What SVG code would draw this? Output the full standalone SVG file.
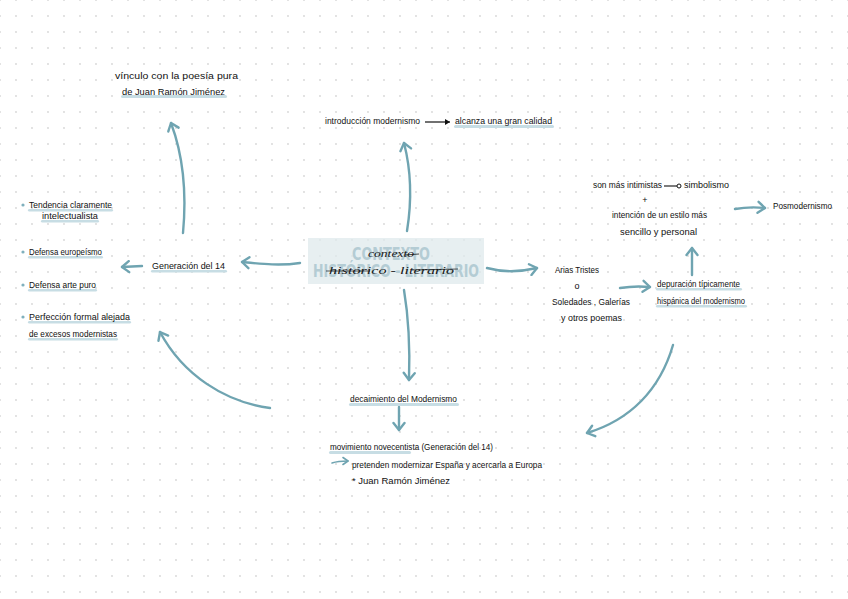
<svg xmlns="http://www.w3.org/2000/svg" width="848" height="599" viewBox="0 0 848 599">
  <defs>
    <pattern id="dots" patternUnits="userSpaceOnUse" x="8" y="8" width="16" height="16">
      <circle cx="8" cy="8" r="0.9" fill="#d6d6d6"/>
    </pattern>
    <marker id="ah" viewBox="-9 -7 11 14" refX="0" refY="0" markerWidth="11" markerHeight="14" markerUnits="userSpaceOnUse" orient="auto">
      <path d="M-7,-5.5 L0,0 L-7,5.5" fill="none" stroke="#6fa4b1" stroke-width="2.4" stroke-linecap="round" stroke-linejoin="round"/>
    </marker>
    <marker id="ahs" viewBox="-7 -5 8 10" refX="0" refY="0" markerWidth="8" markerHeight="10" markerUnits="userSpaceOnUse" orient="auto">
      <path d="M-5,-3.5 L0,0 L-5,3.5" fill="none" stroke="#6fa4b1" stroke-width="1.6" stroke-linecap="round" stroke-linejoin="round"/>
    </marker>
    <marker id="ahk" viewBox="-6 -4 7 8" refX="0" refY="0" markerWidth="7" markerHeight="8" markerUnits="userSpaceOnUse" orient="auto">
      <path d="M-5,-3 L0,0 L-5,3 Z" fill="#111"/>
    </marker>
  </defs>
  <style>
    .t { font-family: "Liberation Sans", "Noto Sans", sans-serif; font-size: 9px; fill: #111111; }
    .hl { fill: #c7dde4; }
    .c { fill: none; stroke: #6fa4b1; stroke-width: 2.4; stroke-linecap: round; }
    .big { font-family: "DejaVu Sans", "Liberation Sans", sans-serif; font-weight: bold; font-size: 18px; fill: #b4ccd4; }
    .hw { font-family: "Liberation Serif", serif; font-style: italic; font-size: 10px; fill: #161616; }
    .bul { fill: #7fb0bd; }
  </style>

  <rect width="848" height="599" fill="#ffffff"/>
  <rect width="848" height="599" fill="url(#dots)"/>

  <g id="connectors">
    <path class="c" d="M407,231 C412,200 411,170 404,143" marker-end="url(#ah)"/>
    <path class="c" d="M300,263 C280,266 262,264 242,262" marker-end="url(#ah)"/>
    <path class="c" d="M142,266 L122,267" marker-end="url(#ah)"/>
    <path class="c" d="M183,233 C187,190 183,155 171,123" marker-end="url(#ah)"/>
    <path class="c" d="M270,408 C225,402 183,375 160,332" marker-end="url(#ah)"/>
    <path class="c" d="M487,268 C505,273 520,272 537,268" marker-end="url(#ah)"/>
    <path class="c" d="M404,290 C409,320 410,350 409,380" marker-end="url(#ah)"/>
    <path class="c" d="M399,407 L399,430" marker-end="url(#ah)"/>
    <path class="c" d="M620,288 C632,286 640,286 650,287" marker-end="url(#ah)"/>
    <path class="c" d="M692,275 L692,248" marker-end="url(#ah)"/>
    <path class="c" d="M735,209 C746,207 755,207 765,208" marker-end="url(#ah)"/>
    <path class="c" d="M673,345 C660,390 630,420 587,433" marker-end="url(#ah)"/>
    <path fill="none" stroke="#6fa4b1" stroke-width="1.6" stroke-linecap="round" d="M332,463 C338,461 343,461 348,461" marker-end="url(#ahs)"/>
    <path fill="none" stroke="#111" stroke-width="1.2" d="M425,122 L450,122" marker-end="url(#ahk)"/>
  </g>

  <g id="node-center">
    <rect x="308" y="238" width="176" height="46" fill="#dfe9ec" opacity="0.75"/>
    <text class="big" x="391" y="260" text-anchor="middle" textLength="78" lengthAdjust="spacingAndGlyphs">CONTEXTO</text>
    <text class="big" x="396" y="277" text-anchor="middle" textLength="166" lengthAdjust="spacingAndGlyphs">HISTÓRICO - LITERARIO</text>
    <text class="hw" x="368" y="257" textLength="46" lengthAdjust="spacingAndGlyphs">contexto</text>
    <path d="M405,255 L419,254" stroke="#161616" stroke-width="0.8" fill="none"/>
    <text class="hw" x="329" y="274" textLength="125" lengthAdjust="spacingAndGlyphs">histórico - literario</text>
    <path d="M326,271 L370,271 M412,270 L458,269" stroke="#161616" stroke-width="0.7" fill="none"/>
  </g>

  <g id="node-vinculo">
    <rect class="hl" x="121" y="95" width="106" height="3" rx="1.5"/>
    <text class="t" x="115" y="79" textLength="123" lengthAdjust="spacingAndGlyphs">vínculo con la poesía pura</text>
    <text class="t" x="122" y="95" textLength="103" lengthAdjust="spacingAndGlyphs">de Juan Ramón Jiménez</text>
  </g>

  <g id="node-introduccion">
    <text class="t" x="325" y="124" textLength="95" lengthAdjust="spacingAndGlyphs">introducción modernismo</text>
  </g>

  <g id="node-alcanza">
    <rect class="hl" x="454" y="125" width="100" height="3" rx="1.5"/>
    <text class="t" x="455" y="124" textLength="97" lengthAdjust="spacingAndGlyphs">alcanza una gran calidad</text>
  </g>

  <g id="node-intimistas">
    <text class="t" x="593" y="188" textLength="69" lengthAdjust="spacingAndGlyphs">son más intimistas</text>
    <path d="M664,186 L677,186" stroke="#111" stroke-width="1.1" fill="none"/>
    <circle cx="679" cy="186" r="2" fill="none" stroke="#111" stroke-width="1"/>
    <text class="t" x="684" y="188" textLength="45" lengthAdjust="spacingAndGlyphs">simbolismo</text>
    <text class="t" x="645" y="203" text-anchor="middle">+</text>
    <text class="t" x="612" y="218" textLength="95" lengthAdjust="spacingAndGlyphs">intención de un estilo más</text>
    <text class="t" x="620" y="235" textLength="77" lengthAdjust="spacingAndGlyphs">sencillo y personal</text>
  </g>

  <g id="node-posmodernismo">
    <text class="t" x="773" y="209" textLength="59" lengthAdjust="spacingAndGlyphs">Posmodernismo</text>
  </g>

  <g id="node-list">
    <circle class="bul" cx="23" cy="205" r="1.6"/>
    <rect class="hl" x="28" y="209" width="85" height="2.5" rx="1.2"/>
    <text class="t" x="29" y="208" textLength="83" lengthAdjust="spacingAndGlyphs">Tendencia claramente</text>
    <rect class="hl" x="41" y="220" width="58" height="2.5" rx="1.2"/>
    <text class="t" x="42" y="219" textLength="56" lengthAdjust="spacingAndGlyphs">intelectualista</text>

    <circle class="bul" cx="23" cy="252" r="1.6"/>
    <rect class="hl" x="28" y="256" width="75" height="2.5" rx="1.2"/>
    <text class="t" x="29" y="255" textLength="73" lengthAdjust="spacingAndGlyphs">Defensa europeísmo</text>

    <circle class="bul" cx="23" cy="285" r="1.6"/>
    <rect class="hl" x="28" y="289" width="69" height="2.5" rx="1.2"/>
    <text class="t" x="29" y="288" textLength="67" lengthAdjust="spacingAndGlyphs">Defensa arte puro</text>

    <circle class="bul" cx="23" cy="317" r="1.6"/>
    <rect class="hl" x="28" y="321" width="103" height="2.5" rx="1.2"/>
    <text class="t" x="29" y="320" textLength="101" lengthAdjust="spacingAndGlyphs">Perfección formal alejada</text>
    <rect class="hl" x="28" y="338" width="90" height="2.5" rx="1.2"/>
    <text class="t" x="29" y="337" textLength="88" lengthAdjust="spacingAndGlyphs">de excesos modernistas</text>
  </g>

  <g id="node-generacion">
    <rect class="hl" x="151" y="270" width="76" height="2.5" rx="1.2"/>
    <text class="t" x="152" y="269" textLength="73" lengthAdjust="spacingAndGlyphs">Generación del 14</text>
  </g>

  <g id="node-arias">
    <text class="t" x="555" y="273" textLength="44" lengthAdjust="spacingAndGlyphs">Arias Tristes</text>
    <text class="t" x="577" y="289" text-anchor="middle">o</text>
    <text class="t" x="552" y="305" textLength="78" lengthAdjust="spacingAndGlyphs">Soledades , Galerías</text>
    <text class="t" x="561" y="321" textLength="61" lengthAdjust="spacingAndGlyphs">y otros poemas</text>
  </g>

  <g id="node-depuracion">
    <rect class="hl" x="656" y="288" width="86" height="2.5" rx="1.2"/>
    <text class="t" x="657" y="287" textLength="83" lengthAdjust="spacingAndGlyphs">depuración típicamente</text>
    <rect class="hl" x="656" y="305" width="91" height="2.5" rx="1.2"/>
    <text class="t" x="657" y="304" textLength="88" lengthAdjust="spacingAndGlyphs">hispánica del modernismo</text>
  </g>

  <g id="node-decaimiento">
    <rect class="hl" x="349" y="403" width="110" height="3" rx="1.5"/>
    <text class="t" x="350" y="402" textLength="107" lengthAdjust="spacingAndGlyphs">decaimiento del Modernismo</text>
  </g>

  <g id="node-novecentista">
    <rect class="hl" x="329" y="451" width="82" height="3" rx="1.5"/>
    <text class="t" x="330" y="450" textLength="163" lengthAdjust="spacingAndGlyphs">movimiento novecentista (Generación del 14)</text>
    <text class="t" x="352" y="468" textLength="190" lengthAdjust="spacingAndGlyphs">pretenden modernizar España y acercarla a Europa</text>
    <text class="t" x="352" y="484" textLength="98" lengthAdjust="spacingAndGlyphs">* Juan Ramón Jiménez</text>
  </g>
</svg>
